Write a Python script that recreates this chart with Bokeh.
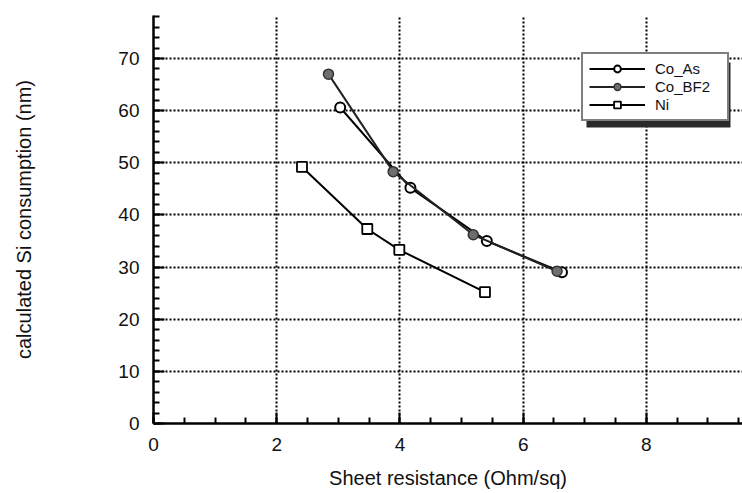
from bokeh.plotting import figure
from bokeh.models import (Range1d, SingleIntervalTicker, Legend, LegendItem, BoxAnnotation)
from bokeh.embed import file_html
from bokeh.resources import INLINE

# Data
co_as_x = [3.03, 4.17, 5.41, 6.63]
co_as_y = [60.6, 45.2, 35.0, 29.0]
co_bf2_x = [2.84, 3.89, 5.19, 6.55]
co_bf2_y = [67.0, 48.3, 36.2, 29.2]
ni_x = [2.41, 3.47, 3.99, 5.38]
ni_y = [49.2, 37.3, 33.3, 25.2]
series_names = ["Co_As", "Co_BF2", "Ni"]

X_END = 9.56
Y_END = 78.25
FW, FH = 589, 408  # frame size in px

FONT = "Liberation Sans"

p = figure(width=742, height=493, output_backend="svg", toolbar_location=None,
           x_range=Range1d(0, X_END), y_range=Range1d(0, Y_END),
           min_border_left=153, min_border_right=0, min_border_top=15, min_border_bottom=70)
p.outline_line_color = None
p.background_fill_color = "white"

# axes
for ax in (p.xaxis[0], p.yaxis[0]):
    ax.axis_line_color = "black"
    ax.axis_line_width = 2.5
    ax.major_tick_in = 11
    ax.major_tick_out = 0
    ax.minor_tick_in = 6
    ax.minor_tick_out = 0
    ax.major_tick_line_width = 2
    ax.minor_tick_line_width = 2
    ax.major_tick_line_color = "black"
    ax.minor_tick_line_color = "black"
    ax.major_label_text_font = FONT
    ax.major_label_text_font_size = "19px"
    ax.major_label_text_color = "#111111"
    ax.axis_label_text_font = FONT
    ax.axis_label_text_font_size = "20px"
    ax.axis_label_text_font_style = "normal"
    ax.axis_label_text_color = "#111111"

p.xaxis.ticker = SingleIntervalTicker(interval=2, num_minor_ticks=4)
p.yaxis.ticker = SingleIntervalTicker(interval=10, num_minor_ticks=5)
p.xaxis.major_label_standoff = 14
p.yaxis.major_label_standoff = 14
p.xaxis.axis_label = "Sheet resistance (Ohm/sq)"
p.yaxis.axis_label = "calculated Si consumption (nm)"
p.xaxis.axis_label_standoff = 13
p.yaxis.axis_label_standoff = 80

for g in (p.xgrid[0], p.ygrid[0]):
    g.grid_line_color = "black"
    g.grid_line_dash = "2 2"
    g.grid_line_width = 2

# legend shadow (decoration), positioned in data units from pixel offsets
def px_x(px):
    return px * X_END / FW

def px_y(py):
    return py * Y_END / FH

LEG_LEFT, LEG_BOTTOM, LEG_W, LEG_H = 428, 302, 144, 65
shadow = BoxAnnotation(left=px_x(LEG_LEFT + 5), right=px_x(LEG_LEFT + LEG_W + 5),
                       bottom=px_y(LEG_BOTTOM - 6), top=px_y(LEG_BOTTOM + LEG_H - 6),
                       fill_color="#2a2a2a", fill_alpha=1.0, line_color=None, level="annotation")
p.add_layout(shadow)

# series
l1 = p.line(co_as_x, co_as_y, line_color="black", line_width=2)
s1 = p.scatter(co_as_x, co_as_y, marker="circle", size=10, fill_color="white",
               line_color="black", line_width=2)
l2 = p.line(co_bf2_x, co_bf2_y, line_color="#222222", line_width=2)
s2 = p.scatter(co_bf2_x, co_bf2_y, marker="circle", size=10, fill_color="#6e6e6e",
               line_color="#333333", line_width=1.5)
l3 = p.line(ni_x, ni_y, line_color="black", line_width=2)
s3 = p.scatter(ni_x, ni_y, marker="square", size=10, fill_color="white",
               line_color="black", line_width=1.8)

legend = Legend(items=[LegendItem(label=series_names[0], renderers=[l1, s1]),
                       LegendItem(label=series_names[1], renderers=[l2, s2]),
                       LegendItem(label=series_names[2], renderers=[l3, s3])],
                location=(LEG_LEFT, LEG_BOTTOM))
legend.border_line_color = "black"
legend.border_line_width = 2
legend.background_fill_color = "white"
legend.background_fill_alpha = 1.0
legend.padding = 6
legend.margin = 0
legend.spacing = 1
legend.glyph_width = 56
legend.glyph_height = 17
legend.label_height = 17
legend.label_width = 66
legend.label_standoff = 10
legend.label_text_font = FONT
legend.label_text_font_size = "15px"
legend.label_text_color = "#111111"
p.add_layout(legend, "center")

open("out.html", "w").write(file_html(p, INLINE))
